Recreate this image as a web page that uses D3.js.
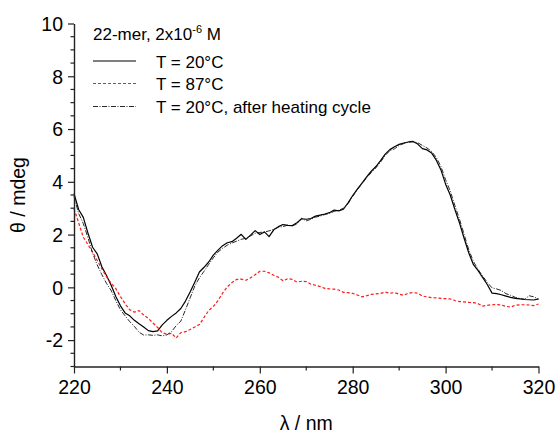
<!DOCTYPE html>
<html>
<head>
<meta charset="utf-8">
<script src="https://cdn.jsdelivr.net/npm/d3@7"></script>
<style>
  html, body { margin: 0; padding: 0; background: #fff; }
  svg { display: block; font-family: Arial, "Liberation Sans", sans-serif; }
</style>
</head>
<body>
<svg id="chart" width="560" height="434"></svg>
<script>
// Wavelength grid, 220-320 nm in 1 nm steps
const wavelengths = d3.range(220, 321, 1);

// CD signal (mdeg), 22-mer at 20 °C
const theta20 = [
  3.55, 2.95, 2.65, 2.06, 1.52, 1.27, 0.78, 0.45, 0.08, -0.35,
  -0.70, -0.97, -1.08, -1.25, -1.38, -1.50, -1.64, -1.68, -1.65, -1.42,
  -1.25, -1.10, -0.97, -0.80, -0.52, -0.18, 0.19, 0.58, 0.76, 0.96,
  1.22, 1.41, 1.58, 1.69, 1.73, 1.86, 2.01, 1.82, 1.98, 2.15,
  2.00, 2.10, 1.92, 2.18, 2.30, 2.38, 2.35, 2.34, 2.45, 2.60,
  2.58, 2.61, 2.70, 2.74, 2.78, 2.83, 2.93, 2.90, 2.96, 3.20,
  3.48, 3.72, 3.95, 4.19, 4.40, 4.58, 4.80, 5.05, 5.22, 5.33,
  5.42, 5.47, 5.51, 5.53, 5.43, 5.26, 5.21, 5.09, 4.82, 4.45,
  3.91, 3.50, 2.95, 2.44, 1.85, 1.30, 0.86, 0.63, 0.37, 0.10,
  -0.22, -0.24, -0.28, -0.33, -0.38, -0.42, -0.44, -0.46, -0.47, -0.48,
  -0.44
];

// CD signal (mdeg) at 87 °C
const theta87 = [
  2.98, 2.45, 1.90, 1.62, 1.33, 1.02, 0.70, 0.40, 0.16, -0.05,
  -0.35, -0.62, -0.85, -0.94, -0.88, -1.05, -1.18, -1.35, -1.52, -1.72,
  -1.78, -1.74, -1.92, -1.72, -1.68, -1.60, -1.50, -1.41, -1.14, -0.88,
  -0.72, -0.50, -0.22, 0.02, 0.18, 0.30, 0.31, 0.27, 0.36, 0.48,
  0.61, 0.61, 0.55, 0.46, 0.38, 0.25, 0.33, 0.30, 0.20, 0.23,
  0.22, 0.12, 0.08, 0.03, -0.04, -0.06, -0.07, -0.10, -0.19, -0.20,
  -0.23, -0.29, -0.36, -0.32, -0.27, -0.25, -0.23, -0.18, -0.22, -0.20,
  -0.26, -0.30, -0.22, -0.20, -0.22, -0.33, -0.36, -0.39, -0.40, -0.42,
  -0.43, -0.44, -0.50, -0.54, -0.55, -0.57, -0.58, -0.62, -0.71, -0.68,
  -0.66, -0.65, -0.67, -0.72, -0.75, -0.68, -0.66, -0.66, -0.67, -0.69,
  -0.63
];

// CD signal (mdeg) back at 20 °C after the heating cycle
const theta20after = [
  3.45, 2.80, 2.42, 1.88, 1.30, 0.85, 0.48, 0.15, -0.12, -0.50,
  -0.85, -1.08, -1.30, -1.48, -1.70, -1.81, -1.80, -1.82, -1.80, -1.84,
  -1.80, -1.68, -1.45, -1.28, -0.85, -0.40, 0.05, 0.36, 0.61, 0.87,
  1.12, 1.34, 1.48, 1.60, 1.68, 1.75, 1.82, 1.86, 1.95, 2.05,
  2.08, 2.10, 2.14, 2.20, 2.28, 2.30, 2.36, 2.33, 2.40, 2.62,
  2.52, 2.58, 2.66, 2.70, 2.76, 2.80, 2.88, 2.92, 3.00, 3.17,
  3.45, 3.70, 3.93, 4.15, 4.35, 4.53, 4.75, 5.00, 5.18, 5.25,
  5.38, 5.45, 5.50, 5.52, 5.48, 5.38, 5.28, 5.15, 4.92, 4.58,
  4.08, 3.65, 3.10, 2.58, 2.00, 1.42, 0.98, 0.68, 0.42, 0.18,
  -0.02, -0.06, -0.12, -0.24, -0.30, -0.38, -0.42, -0.45, -0.32, -0.36,
  -0.45
];

const xMajorTicks = [220, 240, 260, 280, 300, 320];
const xMinorTicks = [230, 250, 270, 290, 310];
const yMajorTicks = [-2, 0, 2, 4, 6, 8, 10];
const yMinorTicks = d3.range(-3, 10.01, 0.5).filter(v => !yMajorTicks.includes(v));

const seriesNames = ["T = 20\u00B0C", "T = 87\u00B0C", "T = 20\u00B0C, after heating cycle"];

const svg = d3.select("#chart");
const plotLeft = 74, plotRight = 538.5, plotTop = 23.5, plotBottom = 366.5;

const x = d3.scaleLinear().domain([220, 320]).range([plotLeft, plotRight]);
const y = d3.scaleLinear().domain([-3, 10]).range([plotBottom, plotTop]);

const axisColor = "#222";
const plainNumber = d => String(d);

// Curves
const line = d3.line()
  .x((d, i) => x(wavelengths[i]))
  .y(d => y(d));

const styles = [
  { data: theta20, stroke: "#000", width: 1.2, dash: null },
  { data: theta87, stroke: "#ff1a1a", width: 1.2, dash: "3,2" },
  { data: theta20after, stroke: "#111", width: 0.9, dash: "5,1.5,1,1.5" }
];

svg.append("g").selectAll("path")
  .data(styles)
  .join("path")
  .attr("d", s => line(s.data))
  .attr("fill", "none")
  .attr("stroke", s => s.stroke)
  .attr("stroke-width", s => s.width)
  .attr("stroke-dasharray", s => s.dash)
  .attr("stroke-linejoin", "round");

// Bottom axis
const xAxis = d3.axisBottom(x).tickValues(xMajorTicks).tickFormat(plainNumber)
  .tickSize(7).tickPadding(6).tickSizeOuter(0);
const gx = svg.append("g").attr("transform", `translate(0,${plotBottom})`).call(xAxis);
gx.selectAll(".tick text").attr("font-size", 19.5).attr("fill", "#000").attr("dy", "0.74em");
gx.append("g").selectAll("line").data(xMinorTicks).join("line")
  .attr("x1", d => x(d)).attr("x2", d => x(d)).attr("y1", 0).attr("y2", 4);

// Left axis
const yAxis = d3.axisLeft(y).tickValues(yMajorTicks).tickFormat(plainNumber)
  .tickSize(6).tickPadding(5).tickSizeOuter(0);
const gy = svg.append("g").attr("transform", `translate(${plotLeft},0)`).call(yAxis);
gy.selectAll(".tick text").attr("font-size", 19.5).attr("fill", "#000").attr("dy", "0.35em");
gy.append("g").selectAll("line").data(yMinorTicks).join("line")
  .attr("x1", 0).attr("x2", -3.5).attr("y1", d => y(d)).attr("y2", d => y(d));

[gx, gy].forEach(g => {
  g.selectAll("path.domain").attr("stroke", axisColor).attr("stroke-width", 1.4);
  g.selectAll("line").attr("stroke", axisColor).attr("stroke-width", 1.2);
  g.attr("font-family", null);
});

// Axis titles
svg.append("text")
  .attr("x", (plotLeft + plotRight) / 2).attr("y", 430)
  .attr("text-anchor", "middle").attr("font-size", 19.5)
  .text("\u03BB / nm");

svg.append("text")
  .attr("transform", `translate(25,${(plotTop + plotBottom) / 2}) rotate(-90)`)
  .attr("text-anchor", "middle").attr("font-size", 19.5)
  .text("\u03B8 / mdeg");

// Legend
const legend = svg.append("g").attr("font-size", 17);
const title = legend.append("text").attr("x", 93).attr("y", 39.5);
title.append("tspan").text("22-mer, 2x10");
title.append("tspan").attr("font-size", 11).attr("dy", -7).text("-6");
title.append("tspan").attr("dy", 7).text(" M");

const rowY = [61, 83.5, 106.5];
legend.selectAll("line.key")
  .data(styles)
  .join("line")
  .attr("class", "key")
  .attr("x1", 93).attr("x2", 136)
  .attr("y1", (s, i) => rowY[i]).attr("y2", (s, i) => rowY[i])
  .attr("stroke", s => s.stroke)
  .attr("stroke-width", s => s.width)
  .attr("stroke-dasharray", s => s.dash);
legend.selectAll("text.label")
  .data(seriesNames)
  .join("text")
  .attr("class", "label")
  .attr("x", 156).attr("y", (d, i) => rowY[i] + 6.5)
  .text(d => d);
</script>
</body>
</html>
